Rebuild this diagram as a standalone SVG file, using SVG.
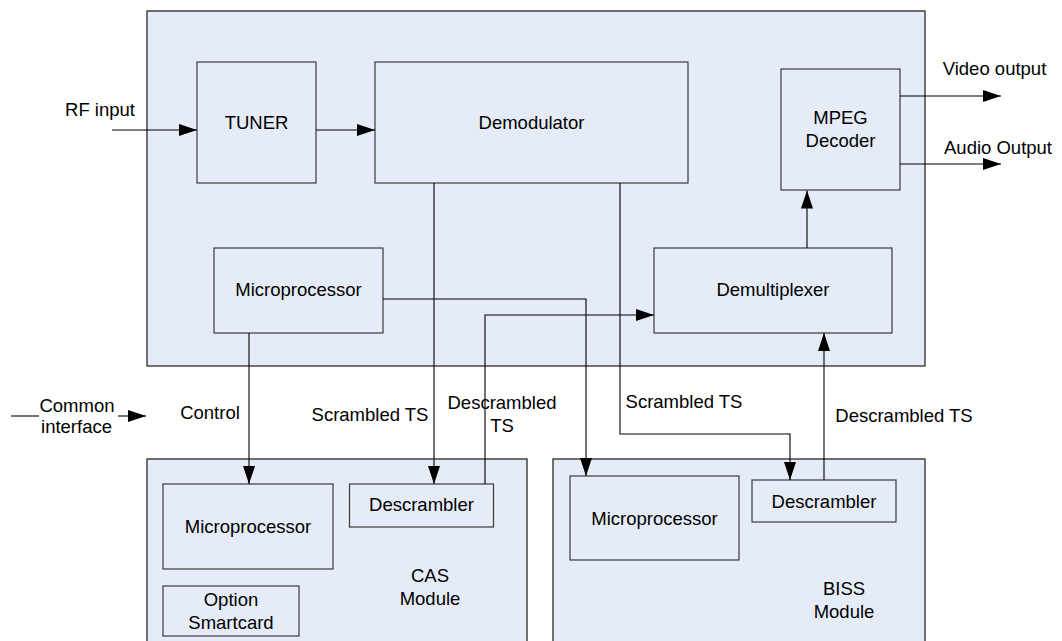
<svg xmlns="http://www.w3.org/2000/svg" width="1062" height="641" viewBox="0 0 1062 641">
<style>
.box{fill:#E5ECF7;stroke:#3a3a3a;stroke-width:1.2}
.outer{fill:#E5ECF7;stroke:#2a2a2a;stroke-width:1.3}
.t{font-family:"Liberation Sans",Arial,sans-serif;font-size:18.5px;fill:#000;text-anchor:middle}
.c{fill:none;stroke:#000;stroke-width:1.1}
</style>
<defs>
<marker id="ah" markerUnits="userSpaceOnUse" markerWidth="18" markerHeight="12" refX="18" refY="6" orient="auto">
<path d="M0,0 L18,6 L0,12 z" fill="#000"/>
</marker>
</defs>
<rect width="1062" height="641" fill="#fff"/>
<g id="main-box"><rect class="outer" x="147" y="11" width="778" height="355"/></g>
<g id="cas-module"><rect class="outer" x="147" y="459" width="380" height="200"/>
<text class="t" x="430" y="582">CAS</text>
<text class="t" x="430" y="605">Module</text></g>
<g id="biss-module"><rect class="outer" x="553" y="459" width="372" height="200"/>
<text class="t" x="844" y="595">BISS</text>
<text class="t" x="844" y="618">Module</text></g>
<g id="tuner"><rect class="box" x="197" y="62" width="119" height="121"/>
<text class="t" x="256.5" y="129">TUNER</text></g>
<g id="demodulator"><rect class="box" x="375" y="62" width="313" height="121"/>
<text class="t" x="531.5" y="129">Demodulator</text></g>
<g id="mpeg-decoder"><rect class="box" x="781" y="69" width="119" height="121"/>
<text class="t" x="840.5" y="124">MPEG</text>
<text class="t" x="840.5" y="147">Decoder</text></g>
<g id="microprocessor-main"><rect class="box" x="214" y="248" width="169" height="85"/>
<text class="t" x="298.5" y="296">Microprocessor</text></g>
<g id="demultiplexer"><rect class="box" x="654" y="248" width="238" height="85"/>
<text class="t" x="773" y="296">Demultiplexer</text></g>
<g id="cas-microprocessor"><rect class="box" x="163" y="484" width="170" height="85"/>
<text class="t" x="248" y="533">Microprocessor</text></g>
<g id="cas-descrambler"><rect class="box" x="349.5" y="484" width="144" height="43"/>
<text class="t" x="421.5" y="510.5">Descrambler</text></g>
<g id="option-smartcard"><rect class="box" x="163" y="586" width="136" height="50"/>
<text class="t" x="231" y="606">Option</text>
<text class="t" x="231" y="628.5">Smartcard</text></g>
<g id="biss-microprocessor"><rect class="box" x="570" y="476" width="169" height="84"/>
<text class="t" x="654.5" y="524.5">Microprocessor</text></g>
<g id="biss-descrambler"><rect class="box" x="752" y="480" width="144" height="42"/>
<text class="t" x="824" y="507.5">Descrambler</text></g>
<g id="connectors">
<path class="c" d="M112,130 H197" marker-end="url(#ah)"/>
<path class="c" d="M316,130 H375" marker-end="url(#ah)"/>
<path class="c" d="M807,248 V190.5" marker-end="url(#ah)"/>
<path class="c" d="M900,96 H1001" marker-end="url(#ah)"/>
<path class="c" d="M900,164 H1001" marker-end="url(#ah)"/>
<path class="c" d="M11,416 H39"/>
<path class="c" d="M118,416 H146" marker-end="url(#ah)"/>
<path class="c" d="M249,333 V484" marker-end="url(#ah)"/>
<path class="c" d="M434,183 V484" marker-end="url(#ah)"/>
<path class="c" d="M485,484 V315 H654" marker-end="url(#ah)"/>
<path class="c" d="M383,299 H586 V476" marker-end="url(#ah)"/>
<path class="c" d="M620,183 V434 H790 V480" marker-end="url(#ah)"/>
<path class="c" d="M824,480 V333" marker-end="url(#ah)"/>
</g>
<g id="labels">
<text class="t" x="100" y="116">RF input</text>
<text class="t" x="994.5" y="75">Video output</text>
<text class="t" x="998" y="153.5">Audio Output</text>
<text class="t" x="77" y="411.5">Common</text>
<text class="t" x="76.5" y="433">interface</text>
<text class="t" x="210" y="419">Control</text>
<text class="t" x="370" y="421">Scrambled TS</text>
<text class="t" x="502" y="409">Descrambled</text>
<text class="t" x="502" y="431.5">TS</text>
<text class="t" x="684" y="407.5">Scrambled TS</text>
<text class="t" x="904" y="421.5">Descrambled TS</text>
</g>
</svg>
